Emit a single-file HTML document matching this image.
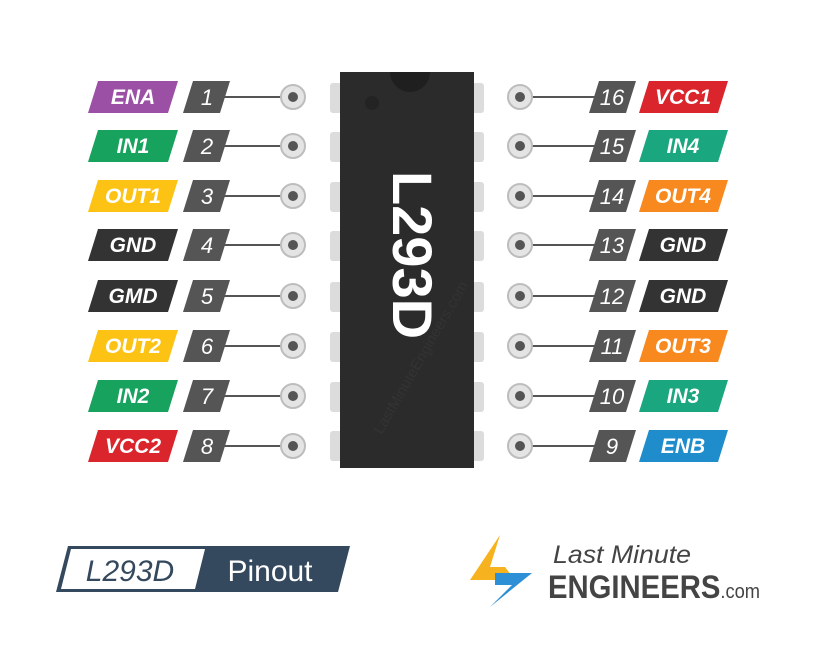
<!DOCTYPE html>
<html><head><meta charset="utf-8"><style>
html,body{margin:0;padding:0;background:#fff;}
svg{display:block;}
text{font-family:"Liberation Sans",sans-serif;}
</style></head><body>
<svg width="819" height="671" viewBox="0 0 819 671" xmlns="http://www.w3.org/2000/svg">
<defs>
<g id="cl"><circle r="12" fill="#e4e4e4" stroke="#bdbdbd" stroke-width="2"/><circle r="5" fill="#555"/></g>
</defs>
<g fill="#dcdcdc">
<rect x="330" y="83" width="12" height="30" rx="3"/><rect x="330" y="132" width="12" height="30" rx="3"/><rect x="330" y="182" width="12" height="30" rx="3"/><rect x="330" y="231" width="12" height="30" rx="3"/><rect x="330" y="282" width="12" height="30" rx="3"/><rect x="330" y="332" width="12" height="30" rx="3"/><rect x="330" y="382" width="12" height="30" rx="3"/><rect x="330" y="431" width="12" height="30" rx="3"/>
<rect x="472" y="83" width="12" height="30" rx="3"/><rect x="472" y="132" width="12" height="30" rx="3"/><rect x="472" y="182" width="12" height="30" rx="3"/><rect x="472" y="231" width="12" height="30" rx="3"/><rect x="472" y="282" width="12" height="30" rx="3"/><rect x="472" y="332" width="12" height="30" rx="3"/><rect x="472" y="382" width="12" height="30" rx="3"/><rect x="472" y="431" width="12" height="30" rx="3"/>
</g>
<rect x="340" y="72" width="134" height="396" fill="#2b2b2b"/>
<path d="M390 72 A20 20 0 0 0 430 72 Z" fill="#1f1f1f"/>
<circle cx="372" cy="103" r="7" fill="#232323"/>
<text x="0" y="0" transform="translate(425,360) rotate(-60)" text-anchor="middle" font-size="15" fill="#333">LastMinuteEngineers.com</text>
<text x="0" y="0" transform="translate(393,255) rotate(90)" text-anchor="middle" font-size="56" font-weight="bold" fill="#fff">L293D</text>

<g>
<polygon points="98,81 178,81 168,113 88,113" fill="#9b4fa5"/>
<polygon points="98,130 178,130 168,162 88,162" fill="#17a25e"/>
<polygon points="98,180 178,180 168,212 88,212" fill="#fcc314"/>
<polygon points="98,229 178,229 168,261 88,261" fill="#333"/>
<polygon points="98,280 178,280 168,312 88,312" fill="#333"/>
<polygon points="98,330 178,330 168,362 88,362" fill="#fcc314"/>
<polygon points="98,380 178,380 168,412 88,412" fill="#17a25e"/>
<polygon points="98,430 178,430 168,462 88,462" fill="#d9252b"/>
</g>
<g fill="#fff" font-size="21" font-style="italic" font-weight="bold" text-anchor="middle">
<text x="133" y="104">ENA</text><text x="133" y="153">IN1</text><text x="133" y="203">OUT1</text><text x="133" y="252">GND</text><text x="133" y="303">GMD</text><text x="133" y="353">OUT2</text><text x="133" y="403">IN2</text><text x="133" y="453">VCC2</text>
</g>
<g stroke="#555" stroke-width="2">
<line x1="222" y1="97" x2="282" y2="97"/><line x1="222" y1="146" x2="282" y2="146"/><line x1="222" y1="196" x2="282" y2="196"/><line x1="222" y1="245" x2="282" y2="245"/><line x1="222" y1="296" x2="282" y2="296"/><line x1="222" y1="346" x2="282" y2="346"/><line x1="222" y1="396" x2="282" y2="396"/><line x1="222" y1="446" x2="282" y2="446"/>
<line x1="532" y1="97" x2="595" y2="97"/><line x1="532" y1="146" x2="595" y2="146"/><line x1="532" y1="196" x2="595" y2="196"/><line x1="532" y1="245" x2="595" y2="245"/><line x1="532" y1="296" x2="595" y2="296"/><line x1="532" y1="346" x2="595" y2="346"/><line x1="532" y1="396" x2="595" y2="396"/><line x1="532" y1="446" x2="595" y2="446"/>
</g>
<g fill="#555">
<polygon points="193,81 230,81 220,113 183,113"/><polygon points="193,130 230,130 220,162 183,162"/><polygon points="193,180 230,180 220,212 183,212"/><polygon points="193,229 230,229 220,261 183,261"/><polygon points="193,280 230,280 220,312 183,312"/><polygon points="193,330 230,330 220,362 183,362"/><polygon points="193,380 230,380 220,412 183,412"/><polygon points="193,430 230,430 220,462 183,462"/>
<polygon points="599,81 636,81 626,113 589,113"/><polygon points="599,130 636,130 626,162 589,162"/><polygon points="599,180 636,180 626,212 589,212"/><polygon points="599,229 636,229 626,261 589,261"/><polygon points="599,280 636,280 626,312 589,312"/><polygon points="599,330 636,330 626,362 589,362"/><polygon points="599,380 636,380 626,412 589,412"/><polygon points="599,430 636,430 626,462 589,462"/>
</g>
<g fill="#fff" font-size="22" font-style="italic" text-anchor="middle">
<text x="207" y="105">1</text><text x="207" y="154">2</text><text x="207" y="204">3</text><text x="207" y="253">4</text><text x="207" y="304">5</text><text x="207" y="354">6</text><text x="207" y="404">7</text><text x="207" y="454">8</text>
<text x="612" y="105">16</text><text x="612" y="154">15</text><text x="612" y="204">14</text><text x="612" y="253">13</text><text x="612" y="304">12</text><text x="612" y="354">11</text><text x="612" y="404">10</text><text x="612" y="454">9</text>
</g>
<use href="#cl" x="293" y="97"/><use href="#cl" x="293" y="146"/><use href="#cl" x="293" y="196"/><use href="#cl" x="293" y="245"/><use href="#cl" x="293" y="296"/><use href="#cl" x="293" y="346"/><use href="#cl" x="293" y="396"/><use href="#cl" x="293" y="446"/>
<use href="#cl" x="520" y="97"/><use href="#cl" x="520" y="146"/><use href="#cl" x="520" y="196"/><use href="#cl" x="520" y="245"/><use href="#cl" x="520" y="296"/><use href="#cl" x="520" y="346"/><use href="#cl" x="520" y="396"/><use href="#cl" x="520" y="446"/>
<g>
<polygon points="649,81 728,81 718,113 639,113" fill="#d9252b"/>
<polygon points="649,130 728,130 718,162 639,162" fill="#1aa67e"/>
<polygon points="649,180 728,180 718,212 639,212" fill="#f7891f"/>
<polygon points="649,229 728,229 718,261 639,261" fill="#333"/>
<polygon points="649,280 728,280 718,312 639,312" fill="#333"/>
<polygon points="649,330 728,330 718,362 639,362" fill="#f7891f"/>
<polygon points="649,380 728,380 718,412 639,412" fill="#1aa67e"/>
<polygon points="649,430 728,430 718,462 639,462" fill="#1f8ccc"/>
</g>
<g fill="#fff" font-size="21" font-style="italic" font-weight="bold" text-anchor="middle">
<text x="683" y="104">VCC1</text><text x="683" y="153">IN4</text><text x="683" y="203">OUT4</text><text x="683" y="252">GND</text><text x="683" y="303">GND</text><text x="683" y="353">OUT3</text><text x="683" y="403">IN3</text><text x="683" y="453">ENB</text>
</g>
<polygon points="68,546 350,546 338,592 56,592" fill="#34495e"/>
<polygon points="71,549 205,549 195,589 61,589" fill="#fff"/>
<text x="130" y="581" text-anchor="middle" font-size="30" fill="#34495e" font-style="italic">L293D</text>
<text x="270" y="581" text-anchor="middle" font-size="30" fill="#fff">Pinout</text>
<polygon points="500,535 470,580 515,580 505,567 490,567" fill="#f6b31f"/>
<polygon points="495,573 532,573 490,607 512,585 495,585" fill="#2d8fd5"/>
<text x="553" y="563" font-size="25" fill="#444" font-style="italic" textLength="138" lengthAdjust="spacingAndGlyphs">Last Minute</text>
<text x="548" y="598" font-size="32" font-weight="bold" fill="#444" textLength="212" lengthAdjust="spacingAndGlyphs">ENGINEERS<tspan font-size="20" font-weight="normal">.com</tspan></text>
</svg>
</body></html>
